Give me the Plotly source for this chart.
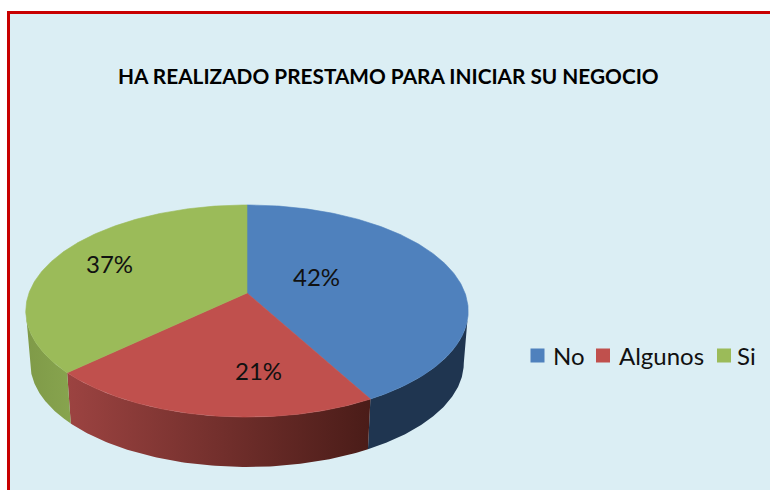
import numpy as np
import plotly.graph_objects as go

# Data
categories = ["No", "Algunos", "Si"]
values = [42, 21, 37]
title_text = "HA REALIZADO PRESTAMO PARA INICIAR SU NEGOCIO"

# Colours
top_colors = ["#4f81bd", "#c0504d", "#9bbb59"]
wall_scales = [
    [[0, "#1f3550"], [1, "#1f3550"]],
    [[0, "#9c4341"], [1, "#4a1c18"]],
    [[0, "#7f9a48"], [1, "#87a44e"]],
]
BG = "#dbeef4"
TEXT = "#111111"
FONT = "Lato"

# Perspective projection of the pie (unit circle) onto the page
CX, CY = 247.0, 311.0
A, B, P, APEX = 218.0, 103.0, 0.17, 18.0
DEPTH, SHRINK = 52.0, 0.98


def project(theta):
    s, c = np.sin(theta), np.cos(theta)
    d = 1 + P * c
    return A * s / d, APEX + B * c / d


def top_xy(theta):
    u, v = project(theta)
    return CX + u, CY - v


def bottom_xy(theta):
    u, v = project(theta)
    return CX + SHRINK * u, CY - (SHRINK * v - DEPTH)


fractions = np.array(values, float) / sum(values)
edges = np.concatenate([[0.0], np.cumsum(fractions)]) * 2 * np.pi
# Walls are visible between the two silhouette points of the ellipse
VIS0 = np.arccos(-P)
VIS1 = 2 * np.pi - VIS0

fig = go.Figure()

# Side walls
for i, cat in enumerate(categories):
    a0, a1 = max(edges[i], VIS0), min(edges[i + 1], VIS1)
    t = np.linspace(a0, a1, 100)
    xt, yt = top_xy(t)
    xb, yb = bottom_xy(t)
    fig.add_trace(go.Scatter(
        x=np.concatenate([xt, xb[::-1]]), y=np.concatenate([yt, yb[::-1]]),
        mode="lines", fill="toself", line=dict(width=0),
        fillgradient=dict(type="horizontal", colorscale=wall_scales[i]),
        hoverinfo="skip", showlegend=False))

# Top faces
for i, cat in enumerate(categories):
    t = np.linspace(edges[i], edges[i + 1], 200)
    xt, yt = top_xy(t)
    fig.add_trace(go.Scatter(
        x=np.concatenate([[CX], xt, [CX]]), y=np.concatenate([[CY - APEX], yt, [CY - APEX]]),
        mode="lines", fill="toself", fillcolor=top_colors[i],
        line=dict(width=0.6, color=top_colors[i]),
        name=cat, hoverinfo="name", showlegend=False))

# Legend, laid out like the original's small squares
legend_swatch_x = [537.5, 603, 724]
legend_text_x = [551, 616.5, 735]
legend_y = 355.5
fig.add_trace(go.Scatter(
    x=legend_swatch_x, y=[legend_y] * 3, mode="markers",
    marker=dict(symbol="square", size=14, color=top_colors),
    hoverinfo="skip", showlegend=False))

annotations = []
for tx, cat in zip(legend_text_x, categories):
    annotations.append(dict(x=tx, y=legend_y - 0.5, text=cat, xanchor="left", yanchor="middle",
                            showarrow=False, xref="x", yref="y",
                            font=dict(family=FONT, size=24, color=TEXT)))

# Percentage labels
label_x = [316.5, 258, 109]
label_y = [276, 370.5, 263]
for lx, ly, val in zip(label_x, label_y, values):
    annotations.append(dict(x=lx, y=ly, text=f"{val}%", xanchor="center", yanchor="middle",
                            showarrow=False, xref="x", yref="y",
                            font=dict(family=FONT, size=24, color=TEXT)))

# Title
annotations.append(dict(x=388.5, y=75.5, text=f"<b>{title_text}</b>", xanchor="center", yanchor="middle",
                        showarrow=False, xref="x", yref="y",
                        font=dict(family=FONT, size=20.8, color="#000000")))

fig.update_layout(
    width=770, height=490, margin=dict(l=0, r=0, t=0, b=0),
    paper_bgcolor="white", plot_bgcolor="white", showlegend=False,
    xaxis=dict(range=[0, 770], visible=False, fixedrange=True),
    yaxis=dict(range=[490, 0], visible=False, fixedrange=True),
    annotations=annotations,
    shapes=[dict(type="rect", x0=8.5, y0=12.5, x1=800, y1=520, xref="x", yref="y", layer="below",
                 fillcolor=BG, line=dict(color="#c80000", width=3))],
)
fig.write_html("out.html", config={"displayModeBar": False},
               post_script="document.body.style.margin='0';document.body.style.overflow='hidden';")
